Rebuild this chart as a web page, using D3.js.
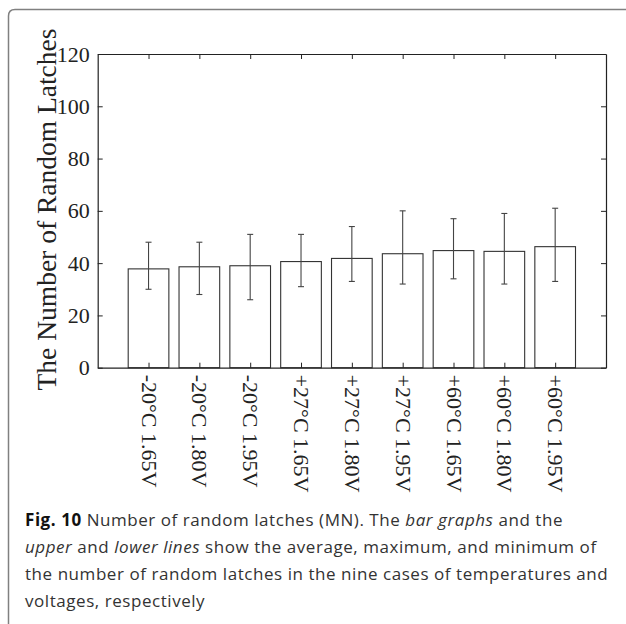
<!DOCTYPE html>
<html>
<head>
<meta charset="utf-8">
<script src="https://cdn.jsdelivr.net/npm/d3@7"></script>
<style>
    html, body { margin: 0; padding: 0; background: #fff; }
    svg { display: block; }
</style>
</head>
<body>
<div id="chart"></div>
<script>
const categories = [
    '-20°C 1.65V', '-20°C 1.80V', '-20°C 1.95V',
    '+27°C 1.65V', '+27°C 1.80V', '+27°C 1.95V',
    '+60°C 1.65V', '+60°C 1.80V', '+60°C 1.95V',
];
const averages = [37.8, 38.6, 39.0, 40.6, 41.8, 43.6, 44.8, 44.5, 46.3];
const maximums = [48, 48, 51, 51, 54, 60, 57, 59, 61];
const minimums = [30, 28, 26, 31, 33, 32, 34, 32, 33];
const yTicks = [0, 20, 40, 60, 80, 100, 120];
const yLabel = 'The Number of Random Latches';

// caption lines, each as a list of [text, style] runs
const captionLines = [
    [['Fig. 10', 'bold'], [' Number of random latches (MN). The ', ''], ['bar graphs', 'italic'], [' and the', '']],
    [['upper', 'italic'], [' and ', ''], ['lower lines', 'italic'], [' show the average, maximum, and minimum of', '']],
    [['the number of random latches in the nine cases of temperatures and', '']],
    [['voltages, respectively', '']],
];

const width = 626;
const height = 624;
const plot = { left: 97.7, right: 606, top: 54, bottom: 367.7 };
const serif = '"Liberation Serif", "Times New Roman", serif';
const sans = '"Open Sans", "Noto Sans", sans-serif';

const svg = d3.select('#chart').append('svg')
    .attr('width', width)
    .attr('height', height);

// rounded frame around figure + caption
svg.append('path')
    .attr('d', 'M8.5,' + (height + 5) + ' L8.5,16 Q8.5,9.5 15,9.5 L' + (width + 5) + ',9.5')
    .attr('fill', 'none')
    .attr('stroke', '#808080')
    .attr('stroke-width', 1.5);

const x = d3.scaleLinear().domain([0, categories.length + 1]).range([plot.left, plot.right]);
const y = d3.scaleLinear().domain([0, 120]).range([plot.bottom, plot.top]);
const barWidth = (x(1) - x(0)) * 0.8;
const idx = categories.map((d, i) => i + 1);

const g = svg.append('g');

// bars
g.selectAll('.bar')
    .data(averages)
    .enter()
    .append('rect')
    .attr('class', 'bar')
    .attr('x', (d, i) => x(i + 1) - barWidth / 2)
    .attr('y', (d) => y(d))
    .attr('width', barWidth)
    .attr('height', (d) => y(0) - y(d))
    .attr('fill', '#fff')
    .attr('stroke', '#333')
    .attr('stroke-width', 1.1);

// error bars
const err = g.selectAll('.err')
    .data(idx)
    .enter()
    .append('g')
    .attr('class', 'err')
    .attr('stroke', '#444')
    .attr('stroke-width', 1.1);

err.append('line')
    .attr('x1', (d) => x(d))
    .attr('x2', (d) => x(d))
    .attr('y1', (d) => y(maximums[d - 1]))
    .attr('y2', (d) => y(minimums[d - 1]));
[maximums, minimums].forEach((vals) => {
    err.append('line')
        .attr('x1', (d) => x(d) - 3)
        .attr('x2', (d) => x(d) + 3)
        .attr('y1', (d) => y(vals[d - 1]))
        .attr('y2', (d) => y(vals[d - 1]));
});

// axes (box with inward ticks)
const axisStyle = (sel) => {
    sel.select('.domain').attr('stroke', '#222').attr('stroke-width', 1.2);
    sel.selectAll('.tick line').attr('stroke', '#222').attr('stroke-width', 1);
};

const xBottom = g.append('g')
    .attr('transform', 'translate(0,' + plot.bottom + ')')
    .call(d3.axisBottom(x).tickValues(idx).tickSizeInner(-5).tickSizeOuter(0).tickFormat(''))
    .call(axisStyle);
g.append('g')
    .attr('transform', 'translate(0,' + plot.top + ')')
    .call(d3.axisTop(x).tickValues(idx).tickSizeInner(-5).tickSizeOuter(0).tickFormat(''))
    .call(axisStyle);
const yLeft = g.append('g')
    .attr('transform', 'translate(' + plot.left + ',0)')
    .call(d3.axisLeft(y).tickValues(yTicks).tickSizeInner(-5).tickSizeOuter(0).tickPadding(8))
    .call(axisStyle);
g.append('g')
    .attr('transform', 'translate(' + plot.right + ',0)')
    .call(d3.axisRight(y).tickValues(yTicks).tickSizeInner(-5).tickSizeOuter(0).tickFormat(''))
    .call(axisStyle);

yLeft.selectAll('.tick text')
    .attr('font-family', serif)
    .attr('font-size', 22)
    .attr('fill', '#222');

// rotated category labels
xBottom.selectAll('.tick')
    .append('text')
    .text((d) => categories[d - 1])
    .attr('transform', 'translate(0,7) rotate(90)')
    .attr('dominant-baseline', 'central')
    .attr('text-anchor', 'start')
    .attr('font-family', serif)
    .attr('font-size', 22)
    .attr('fill', '#222');

svg.append('text')
    .text(yLabel)
    .attr('transform', 'translate(56,' + 209.5 + ') rotate(-90)')
    .attr('text-anchor', 'middle')
    .attr('font-family', serif)
    .attr('font-size', 27.5)
    .attr('fill', '#222');

// caption
const caption = svg.append('g')
    .attr('font-family', sans)
    .attr('font-size', 17)
    .attr('letter-spacing', 0.55)
    .attr('fill', '#333');

captionLines.forEach((runs, i) => {
    const t = caption.append('text')
        .attr('x', 25)
        .attr('y', 526 + i * 27)
        .attr('xml:space', 'preserve');
    runs.forEach((run) => {
        t.append('tspan')
            .text(run[0])
            .attr('font-weight', run[1] === 'bold' ? 700 : null)
            .attr('font-style', run[1] === 'italic' ? 'italic' : null)
            .attr('fill', run[1] === 'bold' ? '#111' : null);
    });
});
</script>
</body>
</html>
